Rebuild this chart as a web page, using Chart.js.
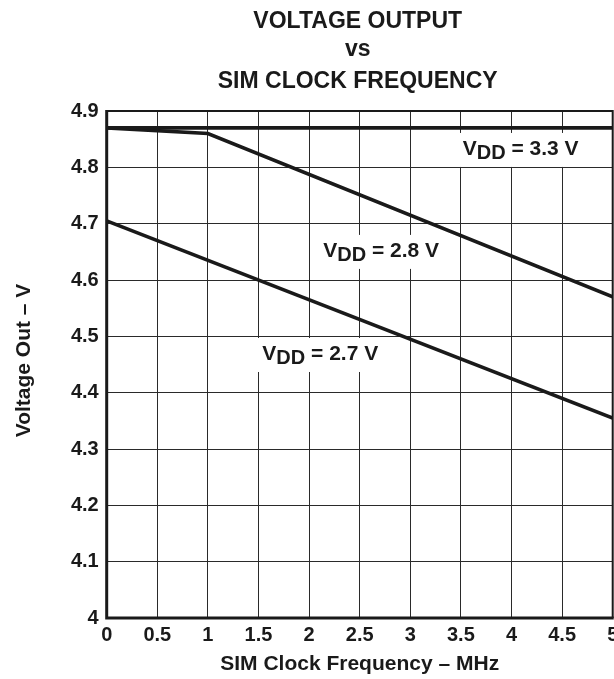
<!DOCTYPE html>
<html>
<head>
<meta charset="utf-8">
<script src="https://cdn.jsdelivr.net/npm/chart.js@4.4.1/dist/chart.umd.min.js"></script>
<style>
html,body{margin:0;padding:0;background:#fff;}
#wrap{width:614px;height:679px;position:relative;}
</style>
</head>
<body>
<div id="wrap"><canvas id="c" width="614" height="679"></canvas></div>
<script>
// ---- data ----
const xTicks = [0, 0.5, 1, 1.5, 2, 2.5, 3, 3.5, 4, 4.5, 5];
const yTicks = [4, 4.1, 4.2, 4.3, 4.4, 4.5, 4.6, 4.7, 4.8, 4.9];
const freq33 = [0, 5];
const vout33 = [4.87, 4.87];
const freq28 = [0, 1, 5];
const vout28 = [4.87, 4.86, 4.57];
const freq27 = [0, 5];
const vout27 = [4.705, 4.355];
const seriesNames = ['3.3', '2.8', '2.7'];
const titleLines = ['VOLTAGE OUTPUT', 'vs', 'SIM CLOCK FREQUENCY'];
const xTitle = 'SIM Clock Frequency \u2013 MHz';
const yTitle = 'Voltage Out \u2013 V';

// label anchors (data coords) - layout only
const labelAnchors = [
  {x: 3.518, y: 4.822},
  {x: 2.140, y: 4.641},
  {x: 1.538, y: 4.458}
];

const FONT = '"Liberation Sans", Arial, Helvetica, sans-serif';
const INK = '#1a1a1a';

function pts(xs, ys){ return xs.map((x,i)=>({x:x, y:ys[i]})); }

const lineStyle = {borderColor: INK, borderWidth: 3.6, pointRadius: 0, fill: false, tension: 0, showLine: true};

const decor = {
  id: 'decor',
  beforeDatasetsDraw(chart){
    const ctx = chart.ctx;
    const xs = chart.scales.x, ys = chart.scales.y;
    ctx.save();
    ctx.textBaseline = 'alphabetic';
    labelAnchors.forEach((a, i) => {
      const px = xs.getPixelForValue(a.x);
      const py = ys.getPixelForValue(a.y);
      ctx.font = 'bold 21px ' + FONT;
      const w1 = ctx.measureText('V').width;
      const rest = ' = ' + seriesNames[i] + ' V';
      const w3 = ctx.measureText(rest).width;
      ctx.font = 'bold 20px ' + FONT;
      const w2 = ctx.measureText('DD').width;
      const total = w1 + w2 + w3;
      ctx.fillStyle = '#fff';
      ctx.fillRect(px - 6, py - 22, total + 14, 34);
      ctx.fillStyle = INK;
      ctx.fillText('DD', px + w1, py + 4);
      ctx.font = 'bold 21px ' + FONT;
      ctx.fillText('V', px, py);
      ctx.fillText(rest, px + w1 + w2, py);
    });
    ctx.restore();
  },
  afterDraw(chart){
    const ctx = chart.ctx;
    const a = chart.chartArea;
    const cx = (a.left + a.right) / 2;
    ctx.save();
    ctx.fillStyle = INK;
    ctx.textAlign = 'center';
    ctx.textBaseline = 'alphabetic';
    ctx.font = 'bold 23px ' + FONT;
    const ty = [28, 56, 88];
    titleLines.forEach((t, i) => ctx.fillText(t, cx - 2, ty[i]));
    ctx.font = 'bold 21px ' + FONT;
    ctx.fillText(xTitle, cx, 670);
    ctx.translate(30, (a.top + a.bottom) / 2 - 4);
    ctx.rotate(-Math.PI / 2);
    ctx.fillText(yTitle, 0, 0);
    ctx.restore();
    // frame
    ctx.save();
    ctx.strokeStyle = INK;
    ctx.lineWidth = 2;
    ctx.beginPath();
    ctx.moveTo(a.left, a.top); ctx.lineTo(a.right, a.top); ctx.lineTo(a.right, a.bottom);
    ctx.stroke();
    ctx.lineWidth = 3;
    ctx.beginPath();
    ctx.moveTo(a.left, a.top - 1); ctx.lineTo(a.left, a.bottom); ctx.lineTo(a.right + 1, a.bottom);
    ctx.stroke();
    ctx.restore();
  }
};

new Chart(document.getElementById('c'), {
  type: 'scatter',
  data: {
    datasets: [
      Object.assign({label: 'VDD = 3.3 V', data: pts(freq33, vout33)}, lineStyle),
      Object.assign({label: 'VDD = 2.8 V', data: pts(freq28, vout28)}, lineStyle),
      Object.assign({label: 'VDD = 2.7 V', data: pts(freq27, vout27)}, lineStyle)
    ]
  },
  options: {
    responsive: false,
    animation: false,
    devicePixelRatio: 1,
    layout: {padding: {top: 111, right: 1.3, left: 0, bottom: 0}},
    plugins: {legend: {display: false}, tooltip: {enabled: false}, title: {display: false}},
    scales: {
      x: {
        type: 'linear', min: 0, max: 5,
        afterBuildTicks(s){ s.ticks = xTicks.map(v => ({value: v})); },
        afterFit(s){ s.height = 61; s.paddingLeft = 0; s.paddingRight = 0; },
        grid: {color: '#2a2a2a', lineWidth: 1, drawTicks: false},
        border: {display: false},
        ticks: {color: INK, font: {family: FONT, weight: 'bold', size: 20}, padding: 5,
                maxRotation: 0, autoSkip: false, callback: v => String(v)}
      },
      y: {
        type: 'linear', min: 4, max: 4.9,
        afterBuildTicks(s){ s.ticks = yTicks.map(v => ({value: v})); },
        afterFit(s){ s.width = 106.7; s.paddingTop = 0; s.paddingBottom = 0; },
        grid: {color: '#2a2a2a', lineWidth: 1, drawTicks: false},
        border: {display: false},
        ticks: {color: INK, font: {family: FONT, weight: 'bold', size: 20}, padding: 8,
                autoSkip: false, callback: v => String(v)}
      }
    }
  },
  plugins: [decor]
});
</script>
</body>
</html>
